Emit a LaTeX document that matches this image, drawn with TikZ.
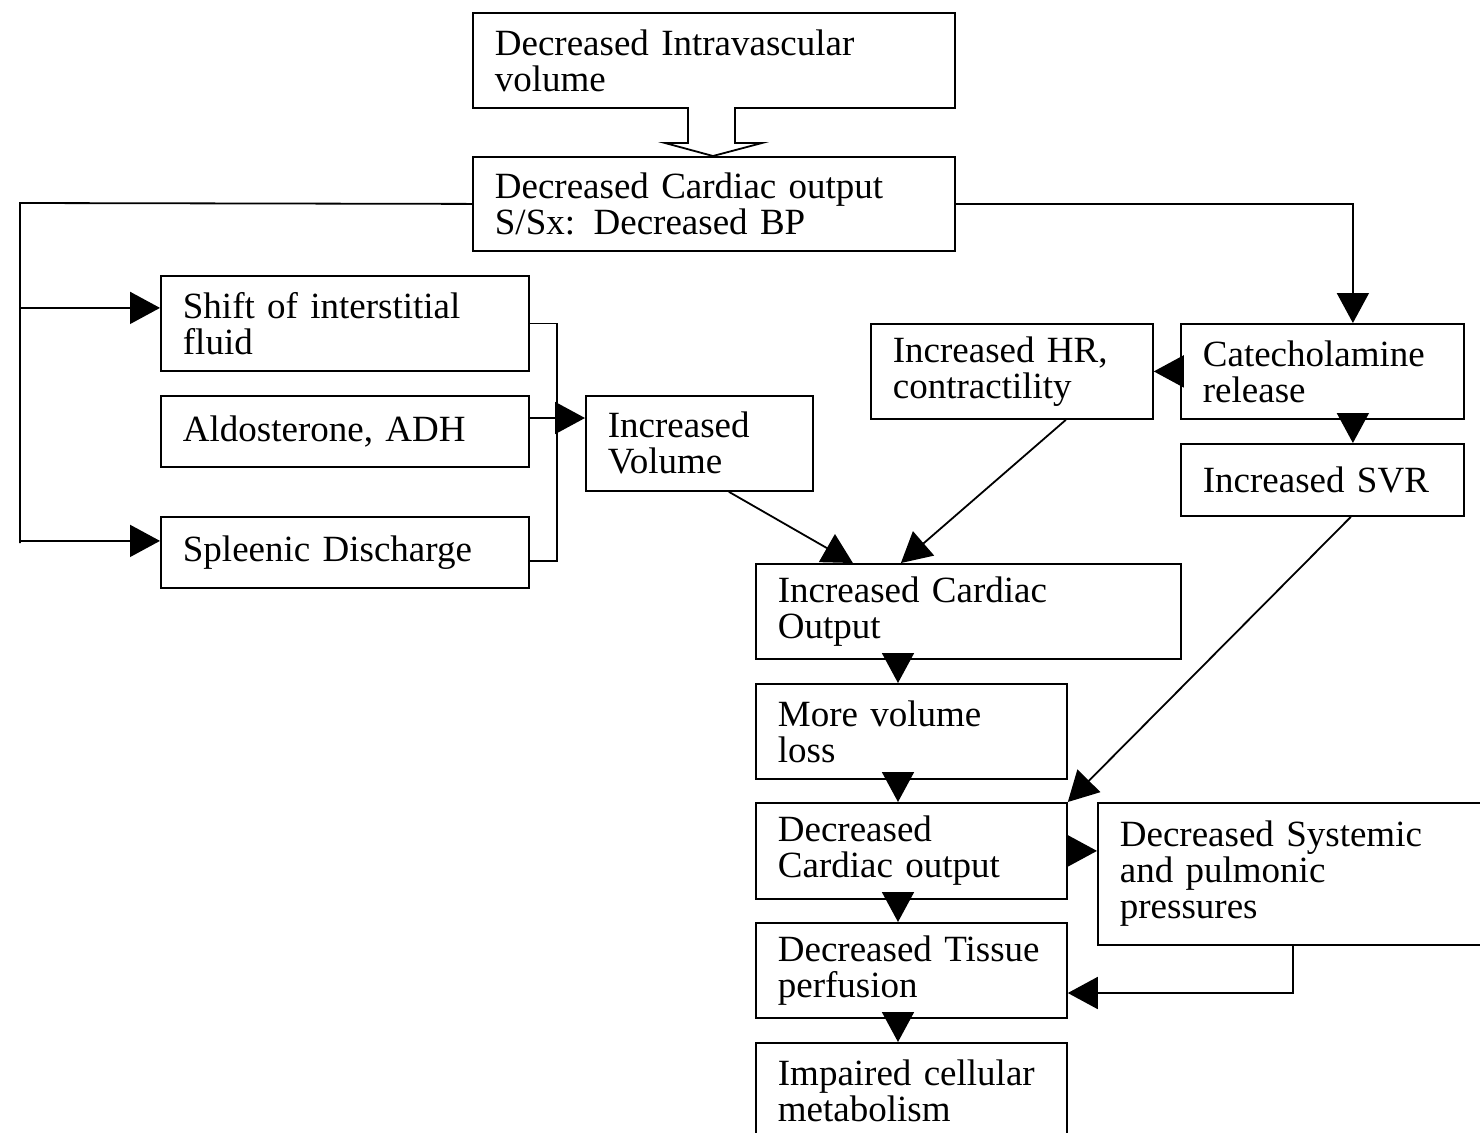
\documentclass[tikz,border=0pt]{standalone}
\usepackage{fontspec}
\setmainfont{Liberation Serif}
\usetikzlibrary{arrows.meta, calc}
\newcommand{\boxfont}{\fontsize{18.5}{18}\selectfont}
\tikzset{
  box/.style={draw, line width=0.9pt, anchor=north west, align=left,
    inner xsep=11pt, inner ysep=0pt, font=\boxfont},
  link/.style={line width=0.9pt},
  arrow/.style={line width=0.9pt, -{Triangle[length=15pt, width=16pt]}},
  hollow/.style={line width=0.9pt, fill=white}
}

\begin{document}
\begin{tikzpicture}[x=0.5pt, y=-0.5pt]
    \useasboundingbox (0,0) rectangle (1480,1132);
    \clip (0,0) rectangle (1480,1132);
    \node[box, text width=219pt, minimum height=47.5pt] (intra) at (472,12) {Decreased Intravascular\\volume};
    \node[box, text width=219pt, minimum height=47pt] (dco) at (472,156) {Decreased Cardiac output\\S/Sx: Decreased BP};
    \node[box, text width=162pt, minimum height=47.5pt] (shift) at (160,275) {Shift of interstitial\\fluid};
    \node[box, text width=162pt, minimum height=35.5pt] (aldo) at (160,395) {Aldosterone, ADH};
    \node[box, text width=162pt, minimum height=35.5pt] (spleen) at (160,516) {Spleenic Discharge};
    \node[box, text width=91.5pt, minimum height=47.5pt] (vol) at (585,395) {Increased\\Volume};
    \node[box, text width=119pt, minimum height=47.5pt] (hr) at (870,323) {Increased HR,\\contractility};
    \node[box, text width=119.5pt, minimum height=47.5pt] (cat) at (1180,323) {Catecholamine\\release};
    \node[box, text width=119.5pt, minimum height=36pt] (svr) at (1180,443) {Increased SVR};
    \node[box, text width=190.5pt, minimum height=47.5pt] (ico) at (755,563) {Increased Cardiac\\Output};
    \node[box, text width=133.5pt, minimum height=47.5pt] (loss) at (755,683) {More volume\\loss};
    \node[box, text width=133.5pt, minimum height=48pt] (dco2) at (755,802) {Decreased\\Cardiac output};
    \node[box, text width=174.5pt, minimum height=71pt] (press) at (1097,802) {Decreased Systemic\\and pulmonic\\pressures};
    \node[box, text width=133.5pt, minimum height=47.5pt] (tissue) at (755,922) {Decreased Tissue\\perfusion};
    \node[box, text width=133.5pt, minimum height=47.5pt] (cell) at (755,1042) {Impaired cellular\\metabolism};

    % hollow arrow
    \draw[hollow] (688,107) -- (688,143) -- (665,143) -- (713,156) -- (762,143) -- (735,143) -- (735,107);

    % left branch
    \coordinate (ltop) at (20,203);
    \coordinate (lbot) at (20,543);
    \coordinate (shiftin) at ([yshift=7.75pt]shift.west);
    \coordinate (spin) at ([yshift=5.75pt]spleen.west);
    \draw[link] (dco.west) -- (ltop) -- (lbot);
    \draw[arrow] (ltop |- shiftin) -- (shiftin);
    \draw[arrow] (ltop |- spin) -- (spin);

    \coordinate (join) at (557,418);
    \draw[link] (shift.east) -| (join);
    \draw[link] ([yshift=-4.25pt]spleen.east) -| (join);
    \draw[arrow] (aldo.east |- join) -- (vol.west |- join);

    % right branch
    \coordinate (catin) at ([xshift=15.25pt]cat.north);
    \draw[arrow] (dco.east) -| (catin);
    \draw[arrow] (cat.south -| catin) -- (svr.north -| catin);
    \draw[arrow] (cat.west) -- (hr.east);

    \draw[arrow] ([xshift=14.75pt]vol.south) -- ([xshift=-57.75pt]ico.north);
    \draw[arrow] ([xshift=27pt]hr.south) -- ([xshift=-33.75pt]ico.north);
    \draw[arrow] ([xshift=14.25pt]svr.south) -- (dco2.north east);

    \coordinate (spine) at (898,0);
    \foreach \a/\b in {ico/loss, loss/dco2, dco2/tissue, tissue/cell}
        \draw[arrow] (\a.south -| spine) -- (\b.north -| spine);
    \draw[arrow] (dco2.east) -- (dco2.east -| press.west);
    \coordinate (drop) at (1293,993);
    \draw[arrow] (press.south -| drop) -- (drop) -- (tissue.east |- drop);
\end{tikzpicture}
\end{document}
